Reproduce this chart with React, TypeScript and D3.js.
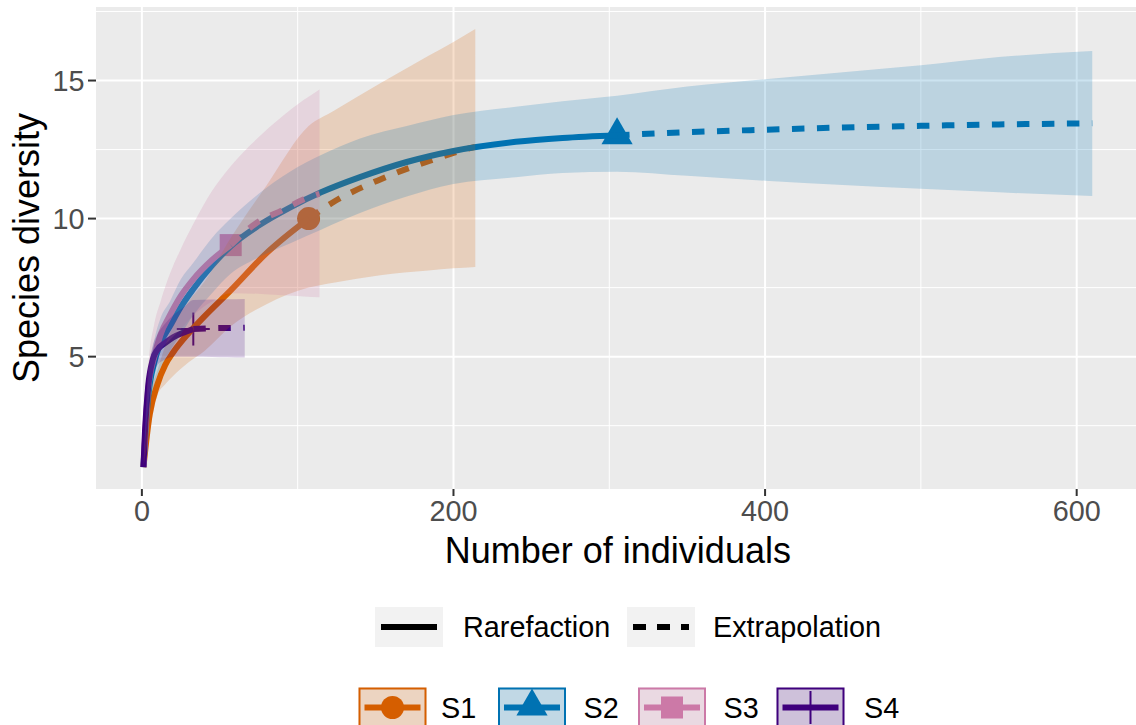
import React from 'react';
import * as d3 from 'd3';

const sites = ['S1', 'S2', 'S3', 'S4'];
const colors = ['#D55E00', '#0072B2', '#CC79A7', '#3F007D'];
const obsN = [107, 305, 57, 33];

const s1X = [1, 5, 10, 15, 20, 30, 40, 57, 80, 107, 123, 153, 184, 200, 214];
const s1Y = [1, 2.9, 4.0, 4.7, 5.15, 5.85, 6.45, 7.4, 8.75, 10.0, 10.6, 11.42, 12.08, 12.38, 12.6];
const s1Lo = [1, 2.3, 3.6, 4.0, 4.3, 4.8, 5.2, 6.1, 6.9, 7.5, 7.68, 7.95, 8.12, 8.2, 8.25];
const s1Hi = [1, 3.5, 4.5, 5.4, 6.1, 7.0, 7.7, 9.3, 11.2, 13.35, 13.9, 14.9, 15.9, 16.4, 16.87];

const s2X = [1, 4, 8, 12, 18, 25, 33, 45, 57, 75, 95, 115, 140, 170, 200, 240, 270, 305, 350, 400, 450, 500, 550, 610];
const s2Y = [1, 3.5, 4.8, 5.5, 6.1, 6.8, 7.45, 8.3, 9.0, 9.75, 10.4, 10.95, 11.5, 12.05, 12.45, 12.78, 12.92, 13.02, 13.13, 13.22, 13.3, 13.36, 13.41, 13.45];
const s2Lo = [1, 2.9, 4.0, 4.6, 5.2, 5.8, 6.5, 7.3, 8.0, 8.6, 9.1, 9.6, 10.2, 10.8, 11.25, 11.5, 11.65, 11.7, 11.55, 11.37, 11.22, 11.08, 10.95, 10.82];
const s2Hi = [1, 4.1, 5.6, 6.4, 7.0, 7.8, 8.4, 9.3, 10.0, 10.9, 11.7, 12.3, 12.9, 13.35, 13.75, 14.05, 14.25, 14.45, 14.78, 15.05, 15.3, 15.55, 15.85, 16.07];

const s3X = [1, 4, 8, 12, 18, 25, 33, 45, 57, 74, 90, 104, 114];
const s3Y = [1, 3.8, 5.0, 5.8, 6.5, 7.2, 7.8, 8.5, 9.04, 9.86, 10.3, 10.7, 10.9];
const s3Lo = [1, 3.2, 4.6, 5.2, 5.6, 6.0, 6.5, 7.0, 7.3, 7.28, 7.22, 7.18, 7.15];
const s3Hi = [1, 4.6, 6.2, 7.0, 8.0, 8.9, 9.8, 11.0, 11.9, 12.9, 13.7, 14.3, 14.68];

const s4X = [1, 2, 4, 7, 10, 15, 20, 27, 33, 45, 55, 66];
const s4Y = [1, 2.3, 3.9, 4.9, 5.25, 5.5, 5.7, 5.88, 6.0, 6.03, 6.04, 6.05];
const s4Lo = [1, 1.9, 3.4, 4.3, 4.7, 4.9, 5.0, 5.0, 5.0, 4.99, 4.98, 4.97];
const s4Hi = [1, 2.7, 4.4, 5.4, 5.8, 6.2, 6.5, 6.8, 7.05, 7.07, 7.08, 7.09];

const xTicks = [0, 200, 400, 600];
const xMinor = [100, 300, 500];
const yTicks = [5, 10, 15];
const yMinor = [2.5, 7.5, 12.5, 17.5];

const lineTypes = ['Rarefaction', 'Extrapolation'];

type Pt = { x: number; y: number; lo: number; hi: number };

const seriesArr: Pt[][] = [
  [s1X, s1Y, s1Lo, s1Hi],
  [s2X, s2Y, s2Lo, s2Hi],
  [s3X, s3Y, s3Lo, s3Hi],
  [s4X, s4Y, s4Lo, s4Hi],
].map(([xs, ys, los, his]) => xs.map((x, i) => ({ x, y: ys[i], lo: los[i], hi: his[i] })));

const FONT = 'Liberation Sans, Arial, Helvetica, sans-serif';
const LW = 6;
const DASH = '12.5,12.5';

const panel = { left: 96, top: 7, bottom: 489 };

function Marker({ idx, cx, cy, color }: { idx: number; cx: number; cy: number; color: string }) {
  if (idx === 0) return <circle cx={cx} cy={cy} r={11.5} fill={color} />;
  if (idx === 1) {
    const xc = 11.57;
    const r = 1.555 * xc, yc = 0.778 * xc, w = 1.347 * xc;
    return <polygon points={`${cx},${cy - r} ${cx + w},${cy + yc} ${cx - w},${cy + yc}`} fill={color} />;
  }
  if (idx === 2) return <rect x={cx - 11} y={cy - 11} width={22} height={22} fill={color} />;
  return (
    <g stroke={color} strokeWidth={2}>
      <line x1={cx - 16.5} x2={cx + 16.5} y1={cy} y2={cy} />
      <line x1={cx} x2={cx} y1={cy - 16.5} y2={cy + 16.5} />
    </g>
  );
}

export default function App() {
  const all = seriesArr.flat();
  const xMin = d3.min(all, d => d.x)!;
  const xMax = d3.max(all, d => d.x)!;
  const yMin = d3.min(all, d => d.lo)!;
  const yMax = d3.max(all, d => d.hi)!;
  const xPad = (xMax - xMin) * 0.05;
  const yPad = (yMax - yMin) * 0.05;

  const x = d3.scaleLinear().domain([xMin - xPad, xMax + xPad]).range([panel.left, 1139.7]);
  const y = d3.scaleLinear().domain([yMin - yPad, yMax + yPad]).range([panel.bottom, panel.top]);
  const pr = x.range()[1];

  const line = d3.line<Pt>().x(d => x(d.x)).y(d => y(d.y)).curve(d3.curveMonotoneX);
  const area = d3.area<Pt>().x(d => x(d.x)).y0(d => y(d.lo)).y1(d => y(d.hi)).curve(d3.curveMonotoneX);

  const panelW = pr - panel.left;
  const panelCx = panel.left + panelW / 2;
  const panelCy = (panel.top + panel.bottom) / 2;

  const ltKeys = [375, 627];
  const ltText = [463, 713];
  const shKeys = [358.5, 498, 638, 776.5];
  const shText = [441, 583.5, 723.5, 864];
  const keyW = 68, keyH = 40;

  return (
    <svg width={1136} height={725} style={{ position: 'absolute', left: 0, top: 0, background: '#fff' }} fontFamily={FONT}>
      <rect x={panel.left} y={panel.top} width={panelW} height={panel.bottom - panel.top} fill="#EBEBEB" />
      {xMinor.map(t => <line key={'xm' + t} x1={x(t)} x2={x(t)} y1={panel.top} y2={panel.bottom} stroke="#fff" strokeWidth={1} />)}
      {yMinor.map(t => <line key={'ym' + t} x1={panel.left} x2={pr} y1={y(t)} y2={y(t)} stroke="#fff" strokeWidth={1} />)}
      {xTicks.map(t => <line key={'xg' + t} x1={x(t)} x2={x(t)} y1={panel.top} y2={panel.bottom} stroke="#fff" strokeWidth={2} />)}
      {yTicks.map(t => <line key={'yg' + t} x1={panel.left} x2={pr} y1={y(t)} y2={y(t)} stroke="#fff" strokeWidth={2} />)}

      {/* points */}
      {seriesArr.map((s, i) => {
        const p = s.find(d => d.x === obsN[i])!;
        return <Marker key={'pt' + i} idx={i} cx={x(p.x)} cy={y(p.y)} color={colors[i]} />;
      })}
      {/* lines */}
      {seriesArr.map((s, i) => {
        const rare = s.filter(d => d.x <= obsN[i]);
        const extra = s.filter(d => d.x >= obsN[i]);
        return (
          <g key={'ln' + i} fill="none" stroke={colors[i]} strokeWidth={LW}>
            <path d={line(rare)!} />
            <path d={line(extra)!} strokeDasharray={DASH} />
          </g>
        );
      })}
      {/* ribbons */}
      {seriesArr.map((s, i) => <path key={'rb' + i} d={area(s)!} fill={colors[i]} fillOpacity={0.2} />)}

      {/* axes */}
      {yTicks.map(t => (
        <g key={'yt' + t}>
          <line x1={panel.left - 8} x2={panel.left} y1={y(t)} y2={y(t)} stroke="#333" strokeWidth={2} />
          <text x={panel.left - 11.5} y={y(t)} dy="0.36em" textAnchor="end" fontSize={28.8} fill="#4D4D4D">{t}</text>
        </g>
      ))}
      {xTicks.map(t => (
        <g key={'xt' + t}>
          <line x1={x(t)} x2={x(t)} y1={panel.bottom} y2={panel.bottom + 7} stroke="#333" strokeWidth={2} />
          <text x={x(t)} y={521} textAnchor="middle" fontSize={28.8} fill="#4D4D4D">{t}</text>
        </g>
      ))}
      <text x={panelCx} y={563} textAnchor="middle" fontSize={36} fill="#000">Number of individuals</text>
      <text transform={`translate(39,${panelCy}) rotate(-90)`} textAnchor="middle" fontSize={36} fill="#000">Species diversity</text>

      {/* linetype legend */}
      {lineTypes.map((lt, i) => (
        <g key={'lt' + i}>
          <rect x={ltKeys[i]} y={607} width={keyW} height={keyH} fill="#F2F2F2" />
          <line x1={ltKeys[i] + 6} x2={ltKeys[i] + keyW - 6} y1={627} y2={627} stroke="#000" strokeWidth={LW} strokeDasharray={i === 1 ? '13,11' : undefined} />
          <text x={ltText[i]} y={637} fontSize={28.8} fill="#000">{lt}</text>
        </g>
      ))}

      {/* site legend */}
      {sites.map((s, i) => {
        const kx = shKeys[i], ky = 687.5;
        const cx = kx + keyW / 2, cy = ky + keyH / 2;
        return (
          <g key={'sk' + i}>
            <rect x={kx} y={ky} width={keyW} height={keyH} fill="#F2F2F2" />
            <rect x={kx + 1} y={ky + 1} width={keyW - 2} height={keyH - 2} fill={colors[i]} fillOpacity={0.2} stroke={colors[i]} strokeWidth={2} />
            <line x1={kx + 6} x2={kx + keyW - 6} y1={cy} y2={cy} stroke={colors[i]} strokeWidth={LW} />
            <Marker idx={i} cx={cx} cy={i === 1 ? cy - 1 : cy} color={colors[i]} />
            <text x={shText[i]} y={cy + 10.3} fontSize={28.8} fill="#000">{s}</text>
          </g>
        );
      })}
    </svg>
  );
}
